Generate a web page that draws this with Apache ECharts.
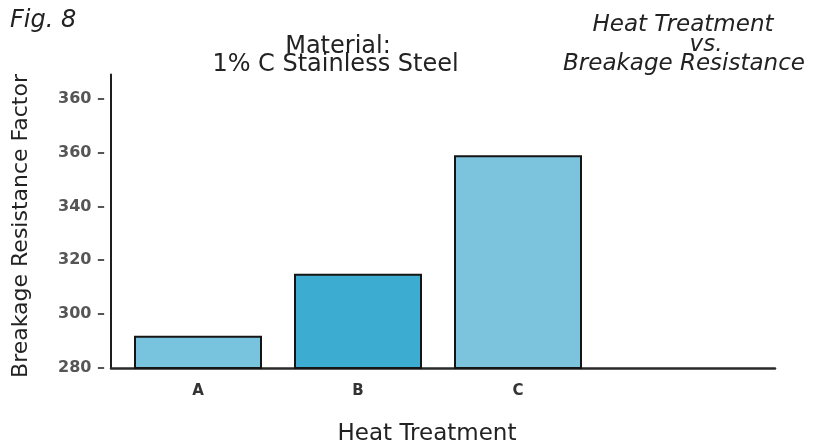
<!DOCTYPE html>
<html>
<head>
<meta charset="utf-8">
<script src="https://cdn.jsdelivr.net/npm/echarts@6/dist/echarts.min.js"></script>
<style>html,body{margin:0;padding:0;background:#fff;}#c{width:827px;height:448px;}</style>
</head>
<body>
<div id="c"></div>
<script>
var categories = ['A', 'B', 'C', ''];
var breakageValues = [292, 315, 359, null];
var barColors = ['#78c3dd', '#3cadd1', '#7cc4de'];
var yTickValues = [280, 300, 320, 340, 360, 380];
var yTickLabels = ['280', '300', '320', '340', '360', '360'];
var yMin = 280, yMax = 389, yStep = 20;

var chart = echarts.init(document.getElementById('c'), null, {renderer: 'canvas'});
var FONT = 'DejaVu Sans';
var txtColor = '#222';

function tickLabel(v) {
  var i = yTickValues.indexOf(Math.round(v));
  return i >= 0 ? yTickLabels[i] + ' \u2013' : '';
}

var option = {
  backgroundColor: '#fff',
  animation: false,
  grid: [
    {left: 111, right: 52, top: 74.5, bottom: 80},
    {left: 118, right: 69, top: 74.5, bottom: 80}
  ],
  xAxis: [
    {gridIndex: 0, type: 'category', data: [''],
     axisLine: {show: true, lineStyle: {color: '#2a2a2a', width: 2.5}},
     axisTick: {show: false}, axisLabel: {show: false}, splitLine: {show: false}},
    {gridIndex: 1, type: 'category', data: categories,
     axisLine: {show: false}, axisTick: {show: false},
     axisLabel: {margin: 16, fontFamily: FONT, fontSize: 15, fontWeight: 'bold', color: '#333'}}
  ],
  yAxis: [
    {gridIndex: 0, type: 'value', min: yMin, max: yMax, interval: yStep,
     axisLine: {show: true, lineStyle: {color: '#1e1e1e', width: 2}},
     axisTick: {show: false}, splitLine: {show: false},
     axisLabel: {margin: 6, formatter: tickLabel, fontFamily: FONT, fontSize: 16, fontWeight: 'bold', color: '#555'}},
    {gridIndex: 1, type: 'value', min: yMin, max: yMax, interval: yStep, show: false}
  ],
  series: [{
    type: 'bar', xAxisIndex: 1, yAxisIndex: 1,
    data: breakageValues.map(function (v, i) {
      return v == null ? null : {value: v, itemStyle: {color: barColors[i]}};
    }),
    barWidth: 128,
    itemStyle: {borderColor: '#151515', borderWidth: 2}
  }],
  graphic: [
    {type: 'text', left: 10, top: 9, style: {text: 'Fig. 8', font: 'italic 24px "DejaVu Sans"', fill: txtColor}},
    {type: 'text', x: 338, y: 46.6, style: {text: 'Material:', font: '24px "DejaVu Sans"', fill: txtColor, align: 'center', verticalAlign: 'middle'}},
    {type: 'text', x: 335.5, y: 64.6, style: {text: '1% C Stainless Steel', font: '24px "DejaVu Sans"', fill: txtColor, align: 'center', verticalAlign: 'middle'}},
    {type: 'text', x: 683, y: 24.6, style: {text: 'Heat Treatment', font: 'italic 23px "DejaVu Sans"', fill: txtColor, align: 'center', verticalAlign: 'middle'}},
    {type: 'text', x: 706, y: 44.6, style: {text: 'vs.', font: 'italic 23px "DejaVu Sans"', fill: txtColor, align: 'center', verticalAlign: 'middle'}},
    {type: 'text', x: 684, y: 63.6, style: {text: 'Breakage Resistance', font: 'italic 23px "DejaVu Sans"', fill: txtColor, align: 'center', verticalAlign: 'middle'}},
    {type: 'text', x: 21, y: 226, rotation: Math.PI / 2, style: {text: 'Breakage Resistance Factor', font: '22px "DejaVu Sans"', fill: txtColor, align: 'center', verticalAlign: 'middle'}},
    {type: 'text', x: 427, y: 434, style: {text: 'Heat Treatment', font: '23px "DejaVu Sans"', fill: txtColor, align: 'center', verticalAlign: 'middle'}}
  ]
};
chart.setOption(option);
</script>
</body>
</html>
